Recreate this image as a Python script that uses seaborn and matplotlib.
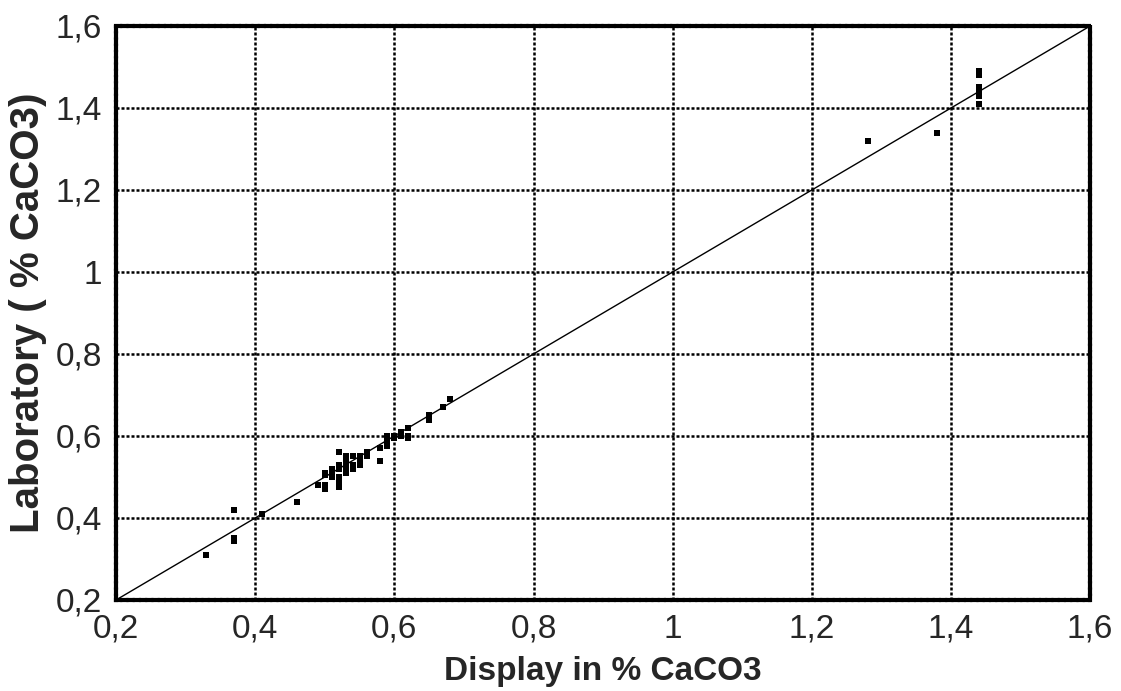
import numpy as np
import pandas as pd
import seaborn as sns
import matplotlib.pyplot as plt
from matplotlib.ticker import MultipleLocator

# lectures instrument vs labo (% CaCO3)
display_vals = [0.33, 0.37, 0.37, 0.37, 0.41, 0.46,
                0.49, 0.50, 0.50, 0.50, 0.50, 0.51, 0.51, 0.51,
                0.52, 0.52, 0.52, 0.52, 0.52, 0.52, 0.52,
                0.53, 0.53, 0.53, 0.53, 0.53, 0.54, 0.54, 0.54,
                0.55, 0.55, 0.55, 0.56, 0.56,
                0.58, 0.58, 0.59, 0.59, 0.59, 0.60, 0.60,
                0.61, 0.61, 0.62, 0.62, 0.62,
                0.65, 0.65, 0.67, 0.68,
                1.28, 1.38, 1.44, 1.44, 1.44, 1.44, 1.44, 1.44]
lab_vals = [0.31, 0.42, 0.35, 0.345, 0.41, 0.44,
            0.48, 0.47, 0.48, 0.505, 0.51, 0.51, 0.52, 0.50,
            0.56, 0.53, 0.52, 0.50, 0.49, 0.48, 0.475,
            0.55, 0.52, 0.53, 0.51, 0.545, 0.55, 0.53, 0.52,
            0.55, 0.53, 0.54, 0.56, 0.55,
            0.54, 0.57, 0.575, 0.59, 0.60, 0.60, 0.595,
            0.60, 0.61, 0.62, 0.60, 0.595,
            0.65, 0.64, 0.67, 0.69,
            1.32, 1.34, 1.49, 1.48, 1.45, 1.44, 1.43, 1.41]
tick_vals = [0.2, 0.4, 0.6, 0.8, 1.0, 1.2, 1.4, 1.6]
tick_labels = ["0,2", "0,4", "0,6", "0,8", "1", "1,2", "1,4", "1,6"]

df = pd.DataFrame({"display": display_vals, "lab": lab_vals})

sns.set_style("white")
plt.rcParams['font.family'] = ['Liberation Sans', 'DejaVu Sans']

fig = plt.figure(figsize=(11.21, 6.91), dpi=100)
ax = fig.add_axes([0.1035, 0.1317, 0.869, 0.8307])

ax.plot([0.2, 1.6], [0.2, 1.6], color='black', lw=1.0, zorder=2)
sns.scatterplot(data=df, x="display", y="lab", marker='s', s=22, color='black',
                edgecolor='black', linewidth=0, ax=ax, zorder=3)

ax.set_xlim(0.2, 1.6)
ax.set_ylim(0.2, 1.6)
ax.set_xticks(tick_vals)
ax.set_xticklabels(tick_labels)
ax.set_yticks(tick_vals)
ax.set_yticklabels(tick_labels)
ax.xaxis.set_minor_locator(MultipleLocator(0.1))
ax.yaxis.set_minor_locator(MultipleLocator(0.1))
ax.tick_params(which='major', direction='in', length=0, labelsize=24, pad=10)
ax.tick_params(which='minor', direction='in', length=6, width=1, color='black')

ax.grid(True, which='major', color='black', linestyle=(0, (1.2, 0.8)), lw=1.8)
for sp in ax.spines.values():
    sp.set_visible(True)
    sp.set_color('black')
    sp.set_linewidth(3)
    sp.set_linestyle((0, (1, 0.5)))

ax.set_xlabel("Display in % CaCO3", fontsize=24, fontweight='bold', labelpad=8)
ax.set_ylabel("Laboratory ( % CaCO3)", fontsize=29, fontweight='bold', labelpad=6)

fig.savefig("out.png", dpi=100)
